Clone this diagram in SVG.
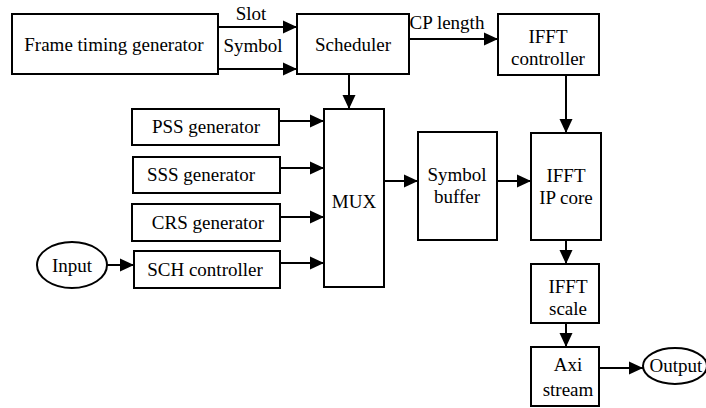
<svg xmlns="http://www.w3.org/2000/svg" width="706" height="408" viewBox="0 0 706 408">
<style>
.box{fill:#fff;stroke:#000;stroke-width:2}
.t{font-size:19px;fill:#000;text-anchor:middle}
.c{fill:none;stroke:#000;stroke-width:2}
</style>
<defs>
<marker id="ah" markerUnits="userSpaceOnUse" markerWidth="15" markerHeight="14" refX="14" refY="7" orient="auto">
<path d="M0,0.5 L14,7 L0,13.5 z" fill="#000"/>
</marker>
</defs>
<rect width="706" height="408" fill="#fff"/>
<g font-family="Liberation Serif, Times New Roman, serif">
<g id="connectors">
<line class="c" x1="218" y1="27" x2="297" y2="27" marker-end="url(#ah)"/>
<line class="c" x1="218" y1="69" x2="297" y2="69" marker-end="url(#ah)"/>
<line class="c" x1="409" y1="39" x2="498" y2="39" marker-end="url(#ah)"/>
<line class="c" x1="349" y1="74" x2="349" y2="109" marker-end="url(#ah)"/>
<line class="c" x1="566" y1="75" x2="566" y2="133" marker-end="url(#ah)"/>
<line class="c" x1="279" y1="121" x2="324" y2="121" marker-end="url(#ah)"/>
<line class="c" x1="280" y1="168" x2="324" y2="168" marker-end="url(#ah)"/>
<line class="c" x1="280" y1="217" x2="324" y2="217" marker-end="url(#ah)"/>
<line class="c" x1="280" y1="263" x2="324" y2="263" marker-end="url(#ah)"/>
<line class="c" x1="107" y1="265" x2="134" y2="265" marker-end="url(#ah)"/>
<line class="c" x1="384" y1="181" x2="418" y2="181" marker-end="url(#ah)"/>
<line class="c" x1="497" y1="181" x2="531" y2="181" marker-end="url(#ah)"/>
<line class="c" x1="566" y1="240" x2="566" y2="264" marker-end="url(#ah)"/>
<line class="c" x1="566" y1="323" x2="566" y2="347" marker-end="url(#ah)"/>
<line class="c" x1="599" y1="368" x2="643" y2="368" marker-end="url(#ah)"/>
<text class="t" x="251" y="20">Slot</text>
<text class="t" x="253" y="52">Symbol</text>
<text class="t" x="447" y="29">CP length</text>
</g>
<g id="frame-timing-generator">
<rect class="box" x="12" y="14" width="206" height="60"/>
<text class="t" x="114" y="51">Frame timing generator</text>
</g>
<g id="scheduler">
<rect class="box" x="297" y="14" width="112" height="60"/>
<text class="t" x="353" y="51">Scheduler</text>
</g>
<g id="ifft-controller">
<rect class="box" x="498" y="14" width="101" height="61"/>
<text class="t" x="548" y="43">IFFT</text>
<text class="t" x="548" y="65">controller</text>
</g>
<g id="pss-generator">
<rect class="box" x="132" y="109" width="147" height="36"/>
<text class="t" x="206" y="133">PSS generator</text>
</g>
<g id="sss-generator">
<rect class="box" x="133" y="157" width="147" height="36"/>
<text class="t" x="201" y="181">SSS generator</text>
</g>
<g id="crs-generator">
<rect class="box" x="132" y="204" width="148" height="37"/>
<text class="t" x="208" y="229">CRS generator</text>
</g>
<g id="sch-controller">
<rect class="box" x="134" y="251" width="146" height="37"/>
<text class="t" x="205" y="276">SCH controller</text>
</g>
<g id="input">
<ellipse class="box" cx="72" cy="265" rx="35" ry="23"/>
<text class="t" x="72" y="272">Input</text>
</g>
<g id="mux">
<rect class="box" x="324" y="109" width="60" height="178"/>
<text class="t" x="354" y="208">MUX</text>
</g>
<g id="symbol-buffer">
<rect class="box" x="418" y="132" width="79" height="108"/>
<text class="t" x="457" y="181">Symbol</text>
<text class="t" x="457" y="203">buffer</text>
</g>
<g id="ifft-ip-core">
<rect class="box" x="531" y="133" width="70" height="107"/>
<text class="t" x="566" y="182">IFFT</text>
<text class="t" x="566" y="204">IP core</text>
</g>
<g id="ifft-scale">
<rect class="box" x="531" y="264" width="68" height="59"/>
<text class="t" x="568" y="293">IFFT</text>
<text class="t" x="568" y="315">scale</text>
</g>
<g id="axi-stream">
<rect class="box" x="531" y="347" width="68" height="59"/>
<text class="t" x="568" y="371">Axi</text>
<text class="t" x="568" y="396">stream</text>
</g>
<g id="output">
<ellipse class="box" cx="675" cy="366" rx="32" ry="18"/>
<text class="t" x="676" y="372">Output</text>
</g>
</g>
</svg>
